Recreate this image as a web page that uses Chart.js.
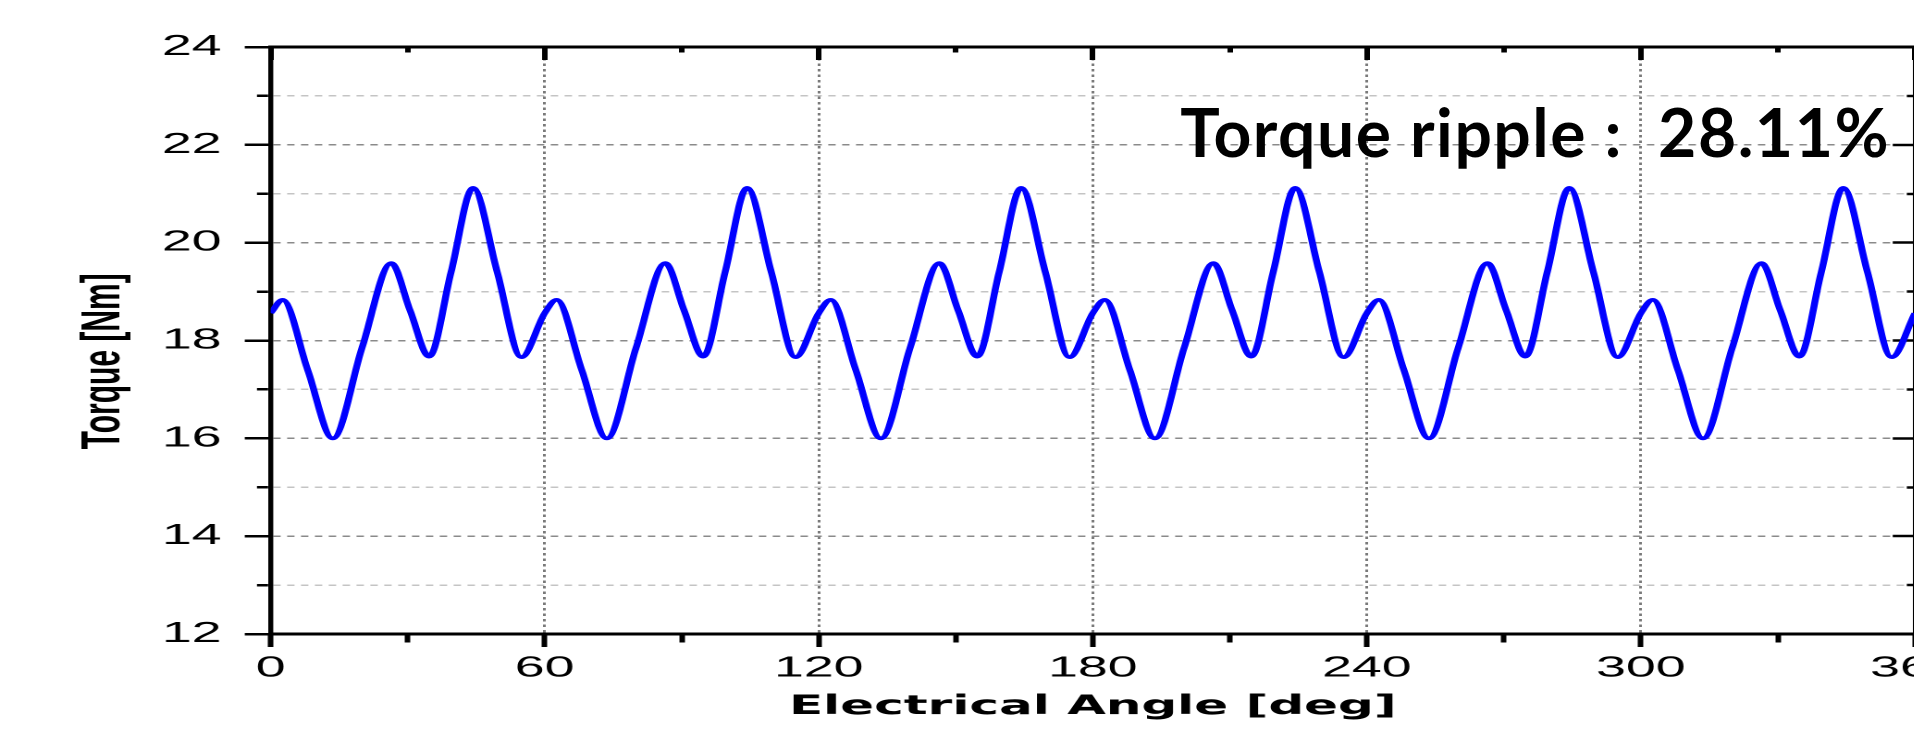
<!DOCTYPE html>
<html>
<head>
<meta charset="utf-8">
<title>Torque ripple</title>
<script src="https://cdn.jsdelivr.net/npm/chart.js@4.4.1/dist/chart.umd.min.js"></script>
<style>
  html, body { margin: 0; padding: 0; width: 1914px; height: 732px; overflow: hidden; background: #fff; }
  /* the original figure is a horizontally stretched plot, so the chart is drawn narrow and scaled in x */
  #wrap { position: absolute; left: 0; top: 0; width: 1080px; height: 732px; transform: scaleX(1.85); transform-origin: 0 0; }
  #note { position: absolute; right: 24px; top: 99px; font: bold 66px Lato, 'Open Sans', sans-serif; line-height: 66px; letter-spacing: 1.5px; white-space: pre; color: #000; }
</style>
</head>
<body>
<div id="wrap"><canvas id="torqueChart"></canvas></div>
<div id="note">Torque ripple :  28.11%</div>
<script>
// Electrical angle [deg] (extrema and mid points)
const angles = [
    0, 2.6, 8.1, 13.6, 20, 26.4, 30.5, 34.7, 39.5, 44.3, 49.6, 54.9,
    60, 62.6, 68.1, 73.6, 80, 86.4, 90.5, 94.7, 99.5, 104.3, 109.6, 114.9,
    120, 122.6, 128.1, 133.6, 140, 146.4, 150.5, 154.7, 159.5, 164.3, 169.6, 174.9,
    180, 182.6, 188.1, 193.6, 200, 206.4, 210.5, 214.7, 219.5, 224.3, 229.6, 234.9,
    240, 242.6, 248.1, 253.6, 260, 266.4, 270.5, 274.7, 279.5, 284.3, 289.6, 294.9,
    300, 302.6, 308.1, 313.6, 320, 326.4, 330.5, 334.7, 339.5, 344.3, 349.6, 354.9,
    360
];
// Torque [Nm]
const torque = [
    18.56, 18.83, 17.40, 16.00, 17.85, 19.58, 18.62, 17.67, 19.40, 21.12, 19.40, 17.66,
    18.56, 18.83, 17.40, 16.00, 17.85, 19.58, 18.62, 17.67, 19.40, 21.12, 19.40, 17.66,
    18.56, 18.83, 17.40, 16.00, 17.85, 19.58, 18.62, 17.67, 19.40, 21.12, 19.40, 17.66,
    18.56, 18.83, 17.40, 16.00, 17.85, 19.58, 18.62, 17.67, 19.40, 21.12, 19.40, 17.66,
    18.56, 18.83, 17.40, 16.00, 17.85, 19.58, 18.62, 17.67, 19.40, 21.12, 19.40, 17.66,
    18.56, 18.83, 17.40, 16.00, 17.85, 19.58, 18.62, 17.67, 19.40, 21.12, 19.40, 17.66,
    18.56
];
const xTickLabels = [0, 60, 120, 180, 240, 300, 360];
const yTickLabels = [12, 14, 16, 18, 20, 22, 24];

const tickFont = { family: "'Liberation Sans', Arial, sans-serif", size: 29 };
const isMinorX = ctx => ctx.tick && !xTickLabels.includes(ctx.tick.value);
const isMinorY = ctx => ctx.tick && !yTickLabels.includes(ctx.tick.value);

const ctx = document.getElementById('torqueChart').getContext('2d');
new Chart(ctx, {
    type: 'line',
    data: {
        datasets: [{
            data: angles.map((a, i) => ({ x: a, y: torque[i] })),
            borderColor: '#0000ff',
            borderWidth: 3.8,
            pointRadius: 0,
            cubicInterpolationMode: 'monotone',
            fill: false
        }]
    },
    options: {
        responsive: true,
        maintainAspectRatio: false,
        devicePixelRatio: 2,
        animation: false,
        layout: { padding: { left: 0, right: 14.9, top: 27, bottom: 0 } },
        plugins: {
            legend: { display: false },
            tooltip: { enabled: false }
        },
        scales: {
            x: {
                type: 'linear',
                position: 'bottom',
                min: 0,
                max: 360,
                afterFit: s => { s.height = 98; },
                ticks: {
                    stepSize: 30,
                    autoSkip: false,
                    maxRotation: 0,
                    padding: 4,
                    color: '#000',
                    font: tickFont,
                    callback: v => xTickLabels.includes(v) ? v : ''
                },
                grid: {
                    color: c => (c.tick && c.tick.value % 60 === 0 && c.tick.value > 0 && c.tick.value < 360) ? '#7a7a7a' : 'rgba(0,0,0,0)',
                    lineWidth: 1.5,
                    tickLength: 13,
                    tickWidth: 3,
                    tickColor: '#000',
                    tickBorderDash: c => isMinorX(c) ? [7, 100] : []
                },
                border: { display: true, color: '#000', width: 3, dash: [2.5, 3] },
                title: {
                    display: true,
                    text: 'Electrical Angle [deg]',
                    color: '#000',
                    font: { family: "'DejaVu Sans', sans-serif", size: 27, weight: 'bold' },
                    padding: { top: 0, bottom: 9 }
                }
            },
            x2: {
                type: 'linear',
                position: 'top',
                min: 0,
                max: 360,
                afterFit: s => { s.height = 20; },
                ticks: { stepSize: 30, display: false },
                grid: {
                    drawOnChartArea: false,
                    tickLength: -13,
                    tickWidth: 3,
                    tickColor: '#000',
                    tickBorderDash: c => isMinorX(c) ? [0, 7.5, 7, 100] : []
                },
                border: { display: true, color: '#000', width: 3 }
            },
            y: {
                type: 'linear',
                position: 'left',
                min: 12,
                max: 24,
                afterFit: s => { s.width = 146.3; },
                ticks: {
                    stepSize: 1,
                    padding: 12.5,
                    color: '#000',
                    font: tickFont,
                    callback: v => yTickLabels.includes(v) ? v : ''
                },
                grid: {
                    color: c => {
                        if (!c.tick || c.tick.value === 12 || c.tick.value === 24) return 'rgba(0,0,0,0)';
                        return isMinorY(c) ? '#c4c4c4' : '#8a8a8a';
                    },
                    lineWidth: 1.5,
                    tickLength: 14,
                    tickWidth: 2.5,
                    tickColor: '#000',
                    tickBorderDash: c => isMinorY(c) ? [0, 6.6, 6, 100] : []
                },
                border: { display: true, color: '#000', width: 2.7, dash: [4, 3.5] },
                title: {
                    display: true,
                    // trailing spaces nudge the centred title down like in the original
                    text: 'Torque [Nm]     ',
                    color: '#000',
                    font: { family: "'Liberation Sans', Arial, sans-serif", size: 30, weight: 'bold' },
                    padding: { top: 38, bottom: 0 }
                }
            },
            y2: {
                type: 'linear',
                position: 'right',
                min: 12,
                max: 24,
                afterFit: s => { s.width = 30; },
                ticks: { stepSize: 1, display: false },
                grid: {
                    drawOnChartArea: false,
                    tickLength: -12,
                    tickWidth: 2.5,
                    tickColor: '#000',
                    tickBorderDash: c => isMinorY(c) ? [6, 100] : []
                },
                border: { display: true, color: '#000', width: 2.7 }
            }
        }
    }
});
</script>
</body>
</html>
